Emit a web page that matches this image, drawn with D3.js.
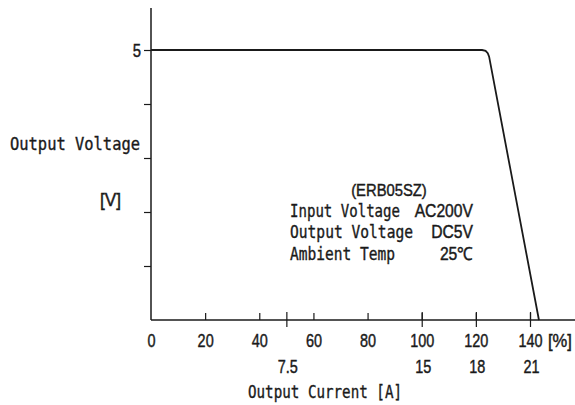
<!DOCTYPE html>
<html>
<head>
<meta charset="utf-8">
<script src="https://cdn.jsdelivr.net/npm/d3@7"></script>
<style>
  body { margin: 0; background: #fff; }
  svg { display: block; }
  .mono { font-family: "DejaVu Sans Mono", "Liberation Mono", monospace; fill: #1a1a1a; stroke: #1a1a1a; stroke-width: 0.35px; }
  .narrow { font-family: "Liberation Sans", Arial, sans-serif; fill: #1a1a1a; stroke: #1a1a1a; stroke-width: 0.45px; }
</style>
</head>
<body>
<svg id="chart"></svg>
<script>
// load (percent of rated current) vs output voltage
const curvePct = [0, 122.3, 123.6, 124.4, 124.9, 143.3];
const curveVolt = [5, 5, 4.985, 4.94, 4.876, 0];

const pctTicks = [0, 20, 40, 60, 80, 100, 120, 140];
const ampTickPct = [50, 100, 120, 140];
const ampTickLabels = ["7.5", "15", "18", "21"];
const voltTicks = [1, 2, 3, 4, 5];

const infoLabels = ["Input Voltage", "Output Voltage", "Ambient Temp"];
const infoValues = ["AC200V", "DC5V", "25℃"];

const width = 575;
const height = 405;

const svg = d3.select("#chart")
  .attr("width", width)
  .attr("height", height);

const x = d3.scaleLinear().domain([0, 140]).range([151, 530]);
const y = d3.scaleLinear().domain([0, 5]).range([320, 50]);

const ink = "#1a1a1a";

// squeeze text horizontally, the source uses a narrow face
function condense(sel, k) {
  sel.each(function () {
    const w = this.getComputedTextLength();
    d3.select(this).attr("textLength", w * k).attr("lengthAdjust", "spacingAndGlyphs");
  });
}

// y axis
const yAxis = svg.append("g")
  .attr("transform", `translate(${x(0)},0)`)
  .call(d3.axisLeft(y).tickValues(voltTicks).tickSize(7).tickFormat(d => d === 5 ? "5" : ""));
yAxis.select(".domain").remove();
yAxis.selectAll("line").attr("stroke", ink).attr("stroke-width", 1.2);
yAxis.selectAll("text")
  .attr("class", "narrow")
  .attr("x", -10)
  .attr("dy", "0.36em")
  .style("font-size", "19px")
  .attr("fill", ink)
  .call(condense, 0.78);

svg.append("line")
  .attr("x1", x(0)).attr("x2", x(0))
  .attr("y1", 8).attr("y2", y(0))
  .attr("stroke", ink).attr("stroke-width", 1.5);

// x axis (percent)
const xAxis = svg.append("g")
  .attr("transform", `translate(0,${y(0)})`)
  .call(d3.axisTop(x).tickValues(pctTicks).tickSize(7).tickFormat(""));
xAxis.select(".domain").remove();
xAxis.selectAll("line").attr("stroke", ink).attr("stroke-width", 1.2)
  .filter(d => d === 0).remove();

const xLabels = svg.append("g")
  .attr("transform", `translate(0,${y(0)})`)
  .call(d3.axisBottom(x).tickValues(pctTicks).tickSize(0).tickFormat(d3.format("d")));
xLabels.select(".domain").remove();
xLabels.selectAll("text")
  .attr("class", "narrow")
  .attr("y", 27).attr("dy", 0)
  .style("font-size", "19px")
  .attr("fill", ink)
  .call(condense, 0.76);

// secondary ticks (current in A)
const aAxis = svg.append("g")
  .attr("transform", `translate(0,${y(0) + 7})`)
  .call(d3.axisTop(x).tickValues(ampTickPct).tickSize(15)
    .tickFormat((d, i) => ampTickLabels[i]));
aAxis.select(".domain").remove();
aAxis.selectAll("line").attr("stroke", ink).attr("stroke-width", 1.2);
aAxis.selectAll("text")
  .attr("class", "narrow")
  .attr("y", 46).attr("dy", 0)
  .attr("dx", 1)
  .style("font-size", "19px")
  .attr("fill", ink)
  .call(condense, 0.76);

svg.append("line")
  .attr("x1", x(0)).attr("x2", 575)
  .attr("y1", y(0)).attr("y2", y(0))
  .attr("stroke", ink).attr("stroke-width", 1.5);

// curve
const pts = curvePct.map((p, i) => [p, curveVolt[i]]);
svg.append("path")
  .datum(pts)
  .attr("fill", "none")
  .attr("stroke", ink)
  .attr("stroke-width", 1.8)
  .attr("d", d3.line().x(d => x(d[0])).y(d => y(d[1])));

// axis titles
svg.append("text").attr("class", "mono")
  .attr("x", 10).attr("y", 150)
  .attr("textLength", 130).attr("lengthAdjust", "spacingAndGlyphs")
  .style("font-size", "17px")
  .text("Output Voltage");

svg.append("text").attr("class", "narrow")
  .attr("x", 100).attr("y", 206)
  .attr("textLength", 21).attr("lengthAdjust", "spacingAndGlyphs")
  .style("font-size", "18px")
  .text("[V]");

svg.append("text").attr("class", "mono")
  .attr("x", 248).attr("y", 398)
  .attr("textLength", 154).attr("lengthAdjust", "spacingAndGlyphs")
  .style("font-size", "17px")
  .text("Output Current [A]");

svg.append("text").attr("class", "narrow")
  .attr("x", 548).attr("y", 347)
  .style("font-size", "18px")
  .text("[%]")
  .call(condense, 0.92);

// info block
svg.append("text").attr("class", "narrow")
  .attr("x", 389).attr("y", 196)
  .attr("text-anchor", "middle")
  .style("font-size", "17px")
  .text("(ERB05SZ)")
  .call(condense, 0.87);

const labelLen = [110, 123, 105];
infoLabels.forEach((t, i) => {
  svg.append("text").attr("class", "mono")
    .attr("x", 290).attr("y", 217 + i * 21.3)
    .attr("textLength", labelLen[i]).attr("lengthAdjust", "spacingAndGlyphs")
    .style("font-size", "17px")
    .text(t);
  svg.append("text").attr("class", "narrow")
    .attr("x", 473).attr("y", 217 + i * 21.3)
    .attr("text-anchor", "end")
    .style("font-size", "18px")
    .text(infoValues[i])
    .call(condense, 0.87);
});
</script>
</body>
</html>
